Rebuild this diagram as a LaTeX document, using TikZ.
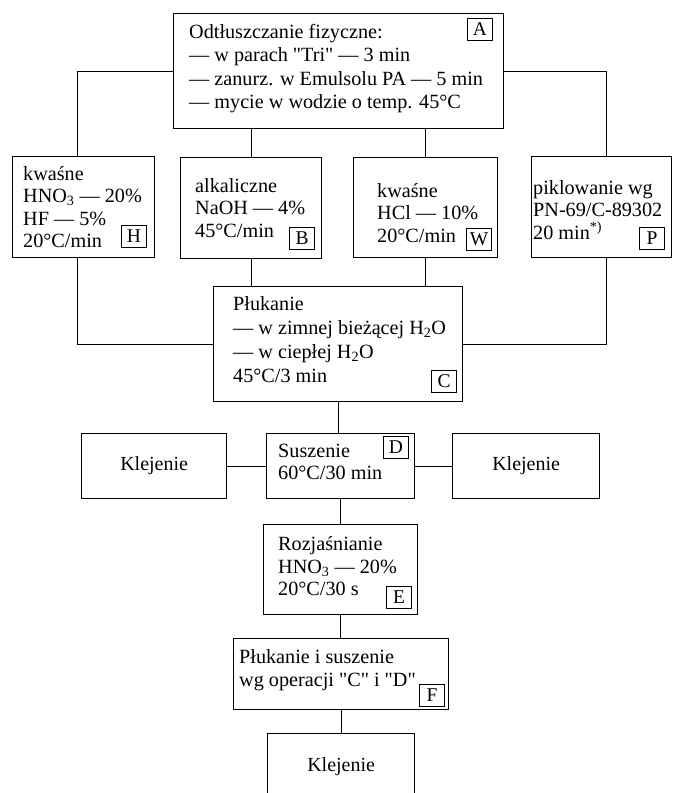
\documentclass[tikz,border=0pt]{standalone}
\usepackage{fontspec}
\setmainfont{Liberation Serif}[Ligatures=TeXOff]

\tikzset{
  box/.style={draw, line width=1.3pt, inner sep=0pt, anchor=north west,
    font=\fontsize{20}{23}\selectfont},
  txt/.style={inner sep=0pt, anchor=north west, align=left,
    font=\fontsize{20.2}{22.5}\selectfont},
  tag/.style={draw, line width=1pt, minimum width=25pt, minimum height=22pt,
    inner sep=0pt, font=\fontsize{19.5}{19.5}\selectfont},
  link/.style={line width=1.3pt}
}

\begin{document}
\begin{tikzpicture}[x=1pt,y=-1pt]

  \useasboundingbox (0,0) rectangle (676,793);
  \clip (0,0) rectangle (676,793);

  % degreasing
  \node[box, minimum width=330pt, minimum height=115pt] (A) at (173,13) {};
  \node[txt, font=\fontsize{20.2}{23.5}\selectfont] (tA) at (189,23.6)
    {Odtłuszczanie fizyczne:\\— w parach "Tri" — 3 min\\— zanurz. w Emulsolu PA — 5 min\\— mycie w wodzie o temp. 45°C};
  \node[tag, anchor=north east] (lA) at (493,18) {A};

  % etching
  \node[box, minimum width=142pt, minimum height=101pt] (H) at (12,156) {};
  \node[txt] (tH) at (23,166)
    {kwaśne\\HNO\textsubscript{3} — 20\%\\HF — 5\%\\20°C/min};
  \node[tag, anchor=south east] (lH) at (147,248) {H};

  \node[box, minimum width=141pt, minimum height=101pt] (B) at (180,157) {};
  \node[txt] (tB) at (195,178)
    {alkaliczne\\NaOH — 4\%\\45°C/min};
  \node[tag, anchor=south east] (lB) at (315,250) {B};

  \node[box, minimum width=144pt, minimum height=100pt] (W) at (353,157) {};
  \node[txt] (tW) at (377,183)
    {kwaśne\\HCl — 10\%\\20°C/min};
  \node[tag, anchor=south east] (lW) at (492,251) {W};

  \node[box, minimum width=140pt, minimum height=101pt] (P) at (531,156) {};
  \node[txt] (tP) at (533,180)
    {piklowanie wg\\PN-69/C-89302\\20 min\textsuperscript{*)}};
  \node[tag, anchor=south east] (lP) at (665,250) {P};

  % rinsing
  \node[box, minimum width=249pt, minimum height=115pt] (C) at (213,286) {};
  \node[txt, font=\fontsize{20.2}{24}\selectfont] (tC) at (233,296.6)
    {Płukanie\\— w zimnej bieżącej H\textsubscript{2}O\\— w ciepłej H\textsubscript{2}O\\45°C/3 min};
  \node[tag, anchor=south east] (lC) at (457,393) {C};

  % drying
  \node[box, minimum width=148pt, minimum height=65pt] (D) at (266,433) {};
  \node[txt] (tD) at (278,443.6)
    {Suszenie\\60°C/30 min};
  \node[tag, anchor=north east] (lD) at (409,436) {D};

  \node[box, minimum width=145pt, minimum height=65pt] (KL) at (81,433) {Klejenie};
  \node[box, minimum width=147pt, minimum height=65pt] (KR) at (452,433) {Klejenie};

  % brightening
  \node[box, minimum width=154pt, minimum height=90pt] (E) at (263,524) {};
  \node[txt] (tE) at (278,536.6)
    {Rozjaśnianie\\HNO\textsubscript{3} — 20\%\\20°C/30 s};
  \node[tag, anchor=south east] (lE) at (412,609) {E};

  \node[box, minimum width=215pt, minimum height=71pt] (F) at (233,638) {};
  \node[txt] (tF) at (239,649.6)
    {Płukanie i suszenie\\wg operacji "C" i "D"};
  \node[tag, anchor=south east] (lF) at (445,707) {F};

  \node[box, minimum width=147pt, minimum height=67pt] (K) at (267,733) {Klejenie};

  % connectors
  \draw[link] (A.west) -| ([xshift=-6pt]H.north);
  \draw[link] (A.east) -| ([xshift=5pt]P.north);
  \draw[link] (B.north) -- (B.north |- A.south);
  \draw[link] (W.north) -- (W.north |- A.south);
  \draw[link] ([xshift=-6pt]H.south) |- (C.west);
  \draw[link] ([xshift=5pt]P.south) |- (C.east);
  \draw[link] (B.south) -- (B.south |- C.north);
  \draw[link] (W.south) -- (W.south |- C.north);
  \draw[link] (C.south) -- (C.south |- D.north);
  \draw[link] (D.west) -- (KL.east);
  \draw[link] (D.east) -- (KR.west);
  \draw[link] (D.south) -- (D.south |- E.north);
  \draw[link] (E.south) -- (E.south |- F.north);
  \draw[link] (F.south) -- (F.south |- K.north);

\end{tikzpicture}
\end{document}
